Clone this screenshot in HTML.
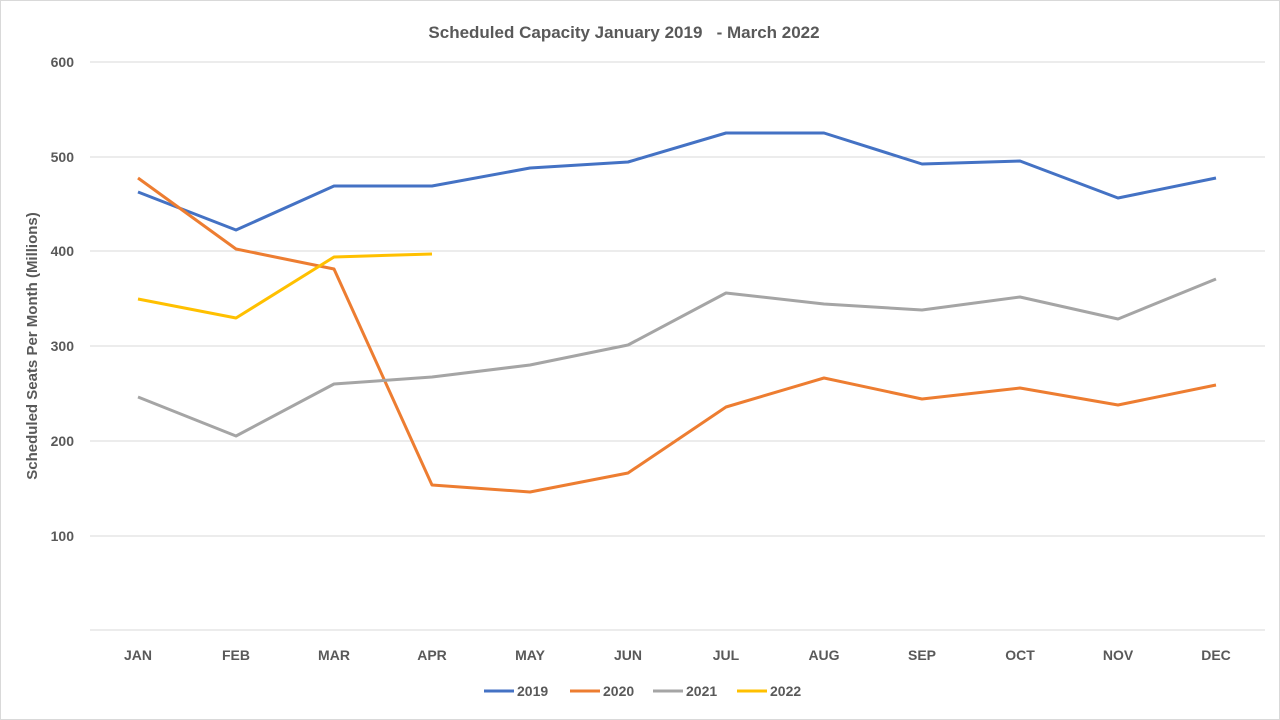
<!DOCTYPE html>
<html><head><meta charset="utf-8"><style>
body{margin:0;background:#fff}
svg{display:block}
text{font-family:"Liberation Sans",sans-serif;fill:#595959;font-weight:bold}
</style></head><body>
<svg width="1280" height="720" viewBox="0 0 1280 720">
<rect x="0.5" y="0.5" width="1279" height="719" fill="#fff" stroke="#d9d9d9"/>
<text x="624" y="38" text-anchor="middle" font-size="17" style="white-space:pre">Scheduled Capacity January 2019   - March 2022</text>
<g stroke="#d9d9d9" stroke-width="1">
<line x1="90" x2="1265" y1="62" y2="62"/><line x1="90" x2="1265" y1="157" y2="157"/>
<line x1="90" x2="1265" y1="251" y2="251"/><line x1="90" x2="1265" y1="346" y2="346"/>
<line x1="90" x2="1265" y1="441" y2="441"/><line x1="90" x2="1265" y1="536" y2="536"/>
<line x1="90" x2="1265" y1="630" y2="630"/>
</g>
<g font-size="14" text-anchor="end">
<text x="74" y="67">600</text><text x="74" y="162">500</text><text x="74" y="256">400</text>
<text x="74" y="351">300</text><text x="74" y="446">200</text><text x="74" y="541">100</text>
</g>
<text transform="translate(37,346) rotate(-90)" text-anchor="middle" font-size="15">Scheduled Seats Per Month (Millions)</text>
<g font-size="14" text-anchor="middle">
<text x="138" y="660">JAN</text><text x="236" y="660">FEB</text><text x="334" y="660">MAR</text>
<text x="432" y="660">APR</text><text x="530" y="660">MAY</text><text x="628" y="660">JUN</text>
<text x="726" y="660">JUL</text><text x="824" y="660">AUG</text><text x="922" y="660">SEP</text>
<text x="1020" y="660">OCT</text><text x="1118" y="660">NOV</text><text x="1216" y="660">DEC</text>
</g>
<g fill="none" stroke-width="3" stroke-linejoin="round">
<polyline stroke="#4472c4" points="138,192 236,230 334,186 432,186 530,168 628,162 726,133 824,133 922,164 1020,161 1118,198 1216,178"/>
<polyline stroke="#ed7d31" points="138,178 236,249 334,269 432,485 530,492 628,473 726,407 824,378 922,399 1020,388 1118,405 1216,385"/>
<polyline stroke="#a5a5a5" points="138,397 236,436 334,384 432,377 530,365 628,345 726,293 824,304 922,310 1020,297 1118,319 1216,279"/>
<polyline stroke="#ffc000" points="138,299 236,318 334,257 432,254"/>
</g>
<g font-size="14">
<line x1="484" x2="514" y1="691" y2="691" stroke="#4472c4" stroke-width="3"/><text x="517" y="696">2019</text>
<line x1="570" x2="600" y1="691" y2="691" stroke="#ed7d31" stroke-width="3"/><text x="603" y="696">2020</text>
<line x1="653" x2="683" y1="691" y2="691" stroke="#a5a5a5" stroke-width="3"/><text x="686" y="696">2021</text>
<line x1="737" x2="767" y1="691" y2="691" stroke="#ffc000" stroke-width="3"/><text x="770" y="696">2022</text>
</g>
</svg>
</body></html>
